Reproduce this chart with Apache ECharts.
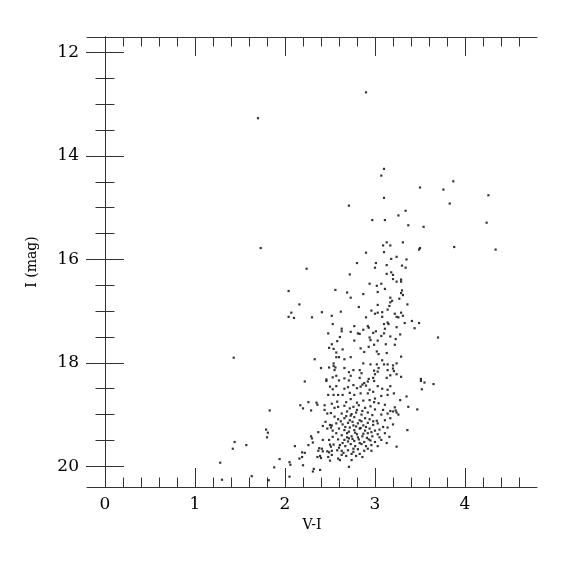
<!DOCTYPE html>
<html><head><meta charset="utf-8">
<script src="https://cdn.jsdelivr.net/npm/echarts@6/dist/echarts.min.js"></script>
<style>html,body{margin:0;padding:0;background:#fff}#c{width:575px;height:575px}</style>
</head><body><div id="c"></div>
<script>
const xTitle = 'V-I';
const yTitle = 'I (mag)';
const xMajorTicks = [0, 1, 2, 3, 4];
const xMinorTicks = [0, 0.2, 0.4, 0.6, 0.8, 1, 1.2, 1.4, 1.6, 1.8, 2, 2.2, 2.4, 2.6, 2.8, 3, 3.2, 3.4, 3.6, 3.8, 4, 4.2, 4.4, 4.6];
const yMajorTicks = [12, 14, 16, 18, 20];
const yMinorTicks = [12, 12.5, 13, 13.5, 14, 14.5, 15, 15.5, 16, 16.5, 17, 17.5, 18, 18.5, 19, 19.5, 20];

// [V-I, I]
const brightStars = [
  [1.70,13.27],[2.90,12.77],[1.73,15.78],[1.43,17.90],[2.24,16.18],[2.71,14.96],
  [3.50,14.61],[3.76,14.65],[3.87,14.49],[4.26,14.76],[3.83,14.92],[4.24,15.29],
  [3.88,15.76],[4.34,15.81],[3.70,17.51]
];
const upperBranch = [
  [3.10,14.25],[3.07,14.38],[3.10,14.81],[3.34,15.06],[3.26,15.15],[2.97,15.24],[3.11,15.24],
  [3.37,15.34],[3.54,15.37],[3.13,15.67],[3.31,15.67],[3.09,15.73],[3.17,15.73],[3.50,15.78],
  [3.49,15.81],[2.90,15.87],[3.10,15.86],[3.24,15.95],[3.18,15.99],[3.35,16.00],[2.80,16.07],
  [3.01,16.07],[3.00,16.16],[3.13,16.11],[3.30,16.12],[3.34,16.16],[2.72,16.29],[3.13,16.28],
  [3.18,16.25],[3.20,16.30],[3.20,16.38],[3.29,16.39],[3.29,16.43],[3.24,16.43],[2.94,16.47],
  [3.07,16.47],[3.02,16.51],[2.87,16.67],[3.11,16.57],[3.03,16.63],[3.30,16.60],[3.29,16.65],
  [3.31,16.69],[3.27,16.76],[3.17,16.74],[3.19,16.80],[3.17,16.83],[3.36,16.87],[3.16,16.90],
  [3.03,16.88],[2.96,16.99],[3.00,17.05],[3.03,17.03],[3.08,17.02],[3.08,17.11],[2.90,17.12],
  [3.14,16.97],[3.22,17.05],[3.29,17.03],[3.31,17.09],[3.24,17.11],[3.26,17.12],[3.41,17.19],
  [3.49,17.23],[3.44,17.33],[3.33,17.23],[3.14,17.22],[3.15,17.25],[3.10,17.25],[3.24,17.31],
  [2.92,17.29],[2.93,17.32],[3.01,17.39],[2.98,17.42],[3.11,17.34],[3.10,17.43],[3.07,17.48],
  [2.87,17.36],[3.28,17.45],[3.17,17.49],[3.23,17.54],[2.94,17.51]
];
const middleBranch = [
  [2.56,16.59],[2.69,16.64],[2.73,16.74],[2.82,16.92],[2.62,17.01],[2.77,17.29],[2.63,17.34],
  [2.63,17.39],[2.73,17.40],[2.81,17.43],[2.83,17.44],[2.61,17.50],[2.58,17.58],[2.77,17.57],
  [3.03,17.57],[2.95,17.56],[3.22,17.65],[3.12,17.64],[2.99,17.65],[2.93,17.69],[2.84,17.72],
  [2.64,17.74],[2.88,17.79],[3.02,17.78],[3.04,17.83],[3.13,17.81],[2.57,17.80],[2.60,17.89],
  [2.57,17.89],[2.66,17.93],[2.73,17.89],[3.08,17.95],[3.29,17.88],[2.87,18.01],[2.95,18.03],
  [3.02,18.03],[3.10,18.03],[3.14,18.03],[3.20,18.05],[3.24,18.01],[2.56,18.09],[2.66,18.10],
  [2.71,18.18],[2.76,18.14],[2.83,18.14],[2.85,18.20],[2.99,18.15],[3.04,18.10],[3.03,18.17],
  [3.14,18.14],[3.20,18.11],[3.21,18.16],[3.24,18.22],[3.17,18.24],[3.13,18.29],[3.00,18.22],
  [2.98,18.29],[2.93,18.31],[2.83,18.29],[2.73,18.25],[2.66,18.30],[2.57,18.25],[3.29,18.27],
  [3.51,18.31],
  [2.04,16.61],[2.16,16.87],[2.07,17.03],[2.04,17.11],[2.10,17.13],[2.30,17.12],[2.41,17.02],
  [2.52,17.09],[2.53,17.25],[2.48,17.43],[2.52,17.64],[2.49,17.71],[2.54,17.73],[2.33,17.93],
  [2.40,18.10],[2.49,18.09],[2.54,18.01],[2.54,18.06],[2.55,18.14],[2.53,18.28],[2.46,18.32]
];
const lowerLeft = [
  [2.22,18.36],[2.46,18.35],[2.50,18.46],[2.53,18.51],[2.48,18.62],[2.54,18.62],[1.83,18.92],
  [2.17,18.82],[2.20,18.88],[2.26,18.76],[2.29,18.92],[2.35,18.77],[2.36,18.81],[2.44,18.82],
  [2.52,18.79],[2.44,18.91],[2.47,18.98],[2.51,18.97],[2.55,18.87],[2.42,19.22],[2.45,19.14],
  [2.50,19.20],[2.52,19.21],[2.47,19.27],[2.51,19.25],[2.53,19.31],[2.37,19.34],[2.29,19.42],
  [2.30,19.46],[2.49,19.49],[2.31,19.54],[2.26,19.59],[2.42,19.49],[2.53,19.43],[2.50,19.58],
  [2.54,19.58],[2.51,19.62],[2.38,19.65],[2.41,19.66],[2.42,19.71],[2.37,19.70],[2.47,19.71],
  [2.49,19.73],[2.52,19.70],[2.52,19.78],[2.39,19.80],[2.36,19.82],[2.40,19.84],[2.48,19.82],
  [2.50,19.89],[2.19,19.73],[2.22,19.74],[2.19,19.82],[2.16,19.85],[2.11,19.61],[1.94,19.86],
  [1.79,19.29],[1.81,19.35],[1.80,19.44],[1.57,19.59],[1.88,20.02],[2.05,19.92],[2.06,19.97],
  [2.20,19.98],[2.32,20.05],[2.31,20.10],[2.39,20.07],[2.05,20.20],[1.63,20.19],[1.44,19.53],
  [1.42,19.66],[1.28,19.93],[1.30,20.26],[1.82,20.27]
];
const lowerCore = [
  [2.57,18.45],[2.60,18.34],[2.71,18.34],[2.88,18.39],[2.92,18.36],[2.99,18.35],[2.66,18.50],
  [2.70,18.47],[2.76,18.43],[2.80,18.49],[2.84,18.46],[2.86,18.42],[2.90,18.44],[2.94,18.52],
  [2.98,18.56],[3.03,18.45],[3.08,18.50],[3.14,18.52],[3.17,18.45],[3.21,18.59],[3.51,18.35],
  [3.55,18.38],[3.52,18.51],[3.65,18.41],[2.59,18.62],[2.64,18.62],[2.72,18.58],[2.77,18.62],
  [2.84,18.59],[2.92,18.59],[3.00,18.69],[3.07,18.64],[3.14,18.62],[3.28,18.72],[3.37,18.85],
  [3.35,18.65],[2.58,18.75],[2.68,18.76],[2.73,18.70],[2.80,18.77],[2.87,18.73],[2.94,18.72],
  [2.99,18.76],[3.04,18.78],[3.11,18.81],[2.59,18.85],[2.66,18.83],[2.72,18.88],[2.76,18.85],
  [2.82,18.82],[2.89,18.87],[2.95,18.84],[3.00,18.90],[3.09,18.91],[3.17,18.93],[3.22,18.86],
  [3.20,18.94],[3.24,18.96],[3.23,18.92],[3.47,18.90],[2.63,18.98],[2.69,18.94],[2.74,18.99],
  [2.79,18.96],[2.85,19.00],[2.92,18.96],[2.97,19.01],[3.07,19.00],[3.14,18.98],[3.26,19.00],
  [2.55,19.04],[2.59,19.09],[2.66,19.07],[2.72,19.11],[2.77,19.05],[2.83,19.11],[2.89,19.07],
  [2.94,19.09],[3.02,19.12],[3.11,19.11],[3.17,19.07],[2.57,19.17],[2.64,19.19],[2.70,19.16],
  [2.76,19.21],[2.81,19.17],[2.87,19.21],[2.92,19.16],[2.98,19.20],[3.03,19.17],[3.09,19.24],
  [3.14,19.25],[3.20,19.19],[2.60,19.27],[2.66,19.30],[2.72,19.25],[2.77,19.30],[2.83,19.27],
  [2.89,19.31],[2.94,19.27],[3.00,19.31],[3.05,19.29],[3.36,19.30],[2.57,19.36],[2.63,19.40],
  [2.69,19.36],[2.74,19.42],[2.80,19.38],[2.86,19.42],[2.92,19.36],[2.97,19.42],[3.03,19.38],
  [3.11,19.36],[3.16,19.43],[2.59,19.48],[2.66,19.49],[2.71,19.46],[2.77,19.51],[2.82,19.48],
  [2.88,19.53],[2.93,19.48],[3.00,19.53],[3.07,19.49],[3.13,19.55],[2.61,19.59],[2.67,19.61],
  [2.73,19.57],[2.78,19.61],[2.85,19.57],[2.90,19.61],[2.96,19.59],[3.03,19.61],[3.24,19.62],
  [2.58,19.69],[2.63,19.70],[2.70,19.69],[2.76,19.72],[2.81,19.67],[2.88,19.70],[2.96,19.70],
  [2.63,19.78],[2.68,19.80],[2.74,19.76],[2.79,19.80],[2.86,19.82],[2.59,19.85],[2.61,19.88],
  [2.74,19.88],[2.71,20.01]
];
const denseClump = [
  [2.68,19.03],[2.75,19.14],[2.79,19.23],[2.85,19.13],[2.71,19.33],[2.78,19.35],[2.84,19.26],
  [2.90,19.24],[2.96,19.34],[2.69,19.44],[2.75,19.47],[2.81,19.44],[2.87,19.37],[2.91,19.45],
  [2.64,19.55],[2.70,19.52],[2.83,19.55],[2.95,19.50],[2.62,19.13],[2.67,19.24],[2.86,18.93],
  [2.80,18.91],[2.73,19.02],[2.98,19.13],[3.05,19.44],[2.60,19.64],[2.76,19.66],[2.92,19.66],
  [2.65,19.74],[2.83,19.76]
];

const allStars = [].concat(brightStars, upperBranch, middleBranch, lowerLeft, lowerCore, denseClump);

const FONT = 'DejaVu Serif';
const LINE = { show: true, lineStyle: { color: '#333', width: 1 } };
const NOLINE = { show: false };

function xAx(grid, pos, ticks, len, withLine, labels) {
  return {
    type: 'value', gridIndex: grid, position: pos, min: -0.2, max: 4.8,
    axisLine: withLine ? LINE : NOLINE,
    axisTick: { show: true, inside: true, length: len, customValues: ticks, lineStyle: { color: '#333', width: 1 } },
    axisLabel: labels ? { show: true, customValues: xMajorTicks, fontFamily: FONT, fontSize: 17, color: '#000', margin: 9 } : { show: false },
    splitLine: { show: false },
    name: labels ? xTitle : '', nameLocation: 'middle', nameGap: 31,
    nameTextStyle: { fontFamily: FONT, fontSize: 14, color: '#000' }
  };
}
function yAx(grid, pos, ticks, len, withLine, labels) {
  return {
    type: 'value', gridIndex: grid, position: pos, min: 11.7, max: 20.4, inverse: true,
    axisLine: withLine ? LINE : NOLINE,
    axisTick: { show: true, inside: true, length: len, customValues: ticks, lineStyle: { color: '#333', width: 1 } },
    axisLabel: labels ? { show: true, customValues: yMajorTicks, fontFamily: FONT, fontSize: 17, color: '#000', margin: 8 } : { show: false },
    splitLine: { show: false },
    name: labels ? yTitle : '', nameLocation: 'middle', nameGap: 48, nameRotate: 90,
    nameTextStyle: { fontFamily: FONT, fontSize: 14, color: '#000' }
  };
}

const gridBox = { left: 87, top: 37, right: 38, bottom: 88, containLabel: false };
const chart = echarts.init(document.getElementById('c'), null, { renderer: 'canvas' });
chart.setOption({
  animation: false,
  backgroundColor: '#fff',
  grid: [Object.assign({}, gridBox), Object.assign({}, gridBox)],
  xAxis: [
    xAx(0, 'bottom', xMajorTicks, 19, true, true),
    xAx(0, 'top', xMajorTicks, 19, true, false),
    xAx(1, 'bottom', xMinorTicks, 9.5, false, false),
    xAx(1, 'top', xMinorTicks, 9.5, false, false)
  ],
  yAxis: [
    yAx(0, 'left', yMajorTicks, 19, true, true),
    yAx(0, 'right', yMajorTicks, 19, true, false),
    yAx(1, 'left', yMinorTicks, 9.5, false, false),
    yAx(1, 'right', yMinorTicks, 9.5, false, false)
  ],
  series: [{
    type: 'scatter', xAxisIndex: 0, yAxisIndex: 0,
    data: allStars, symbol: 'rect', symbolSize: 2.2,
    itemStyle: { color: '#000' }, silent: true
  }]
});
</script>
</body></html>
